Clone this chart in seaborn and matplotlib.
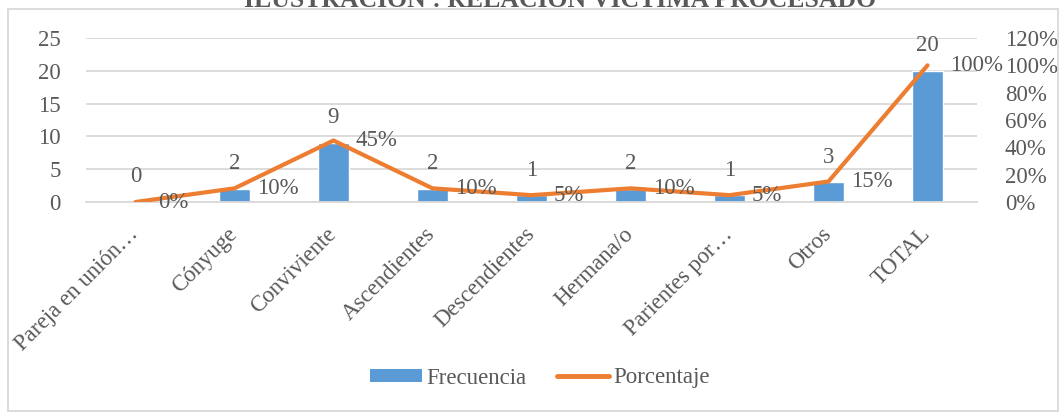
import matplotlib
matplotlib.use("Agg")
import matplotlib.pyplot as plt
import seaborn as sns
import numpy as np
from matplotlib.patches import Patch, Rectangle
from matplotlib.lines import Line2D
from matplotlib.ticker import FuncFormatter, MultipleLocator

categories = ["Pareja en unión…", "Cónyuge", "Conviviente", "Ascendientes",
              "Descendientes", "Hermana/o", "Parientes por…", "Otros", "TOTAL"]
frecuencia = [0, 2, 9, 2, 1, 2, 1, 3, 20]
porcentaje = [0.00, 0.10, 0.45, 0.10, 0.05, 0.10, 0.05, 0.15, 1.00]
title = "ILUSTRACIÓN : RELACIÓN VÍCTIMA PROCESADO"

BLUE = "#5B9BD5"
ORANGE = "#ED7D31"
TXT = "#595959"
GRID = "#D9D9D9"
FS = 16.5

sns.set_theme(style="white")
plt.rcParams["font.family"] = ["Liberation Serif", "DejaVu Serif"]

fig = plt.figure(figsize=(10.62, 4.13), dpi=100)
W, H = 1062, 413
ax = fig.add_axes([86 / W, 1 - 202 / H, 891 / W, 164 / H])

sns.barplot(x=categories, y=frecuencia, color=BLUE, saturation=1, width=0.31, ax=ax, zorder=2)
ax.set_xlim(-0.5, len(categories) - 0.5)
ax.set_ylim(0, 25)
ax.yaxis.set_major_locator(MultipleLocator(5))
ax.grid(axis="y", color=GRID, lw=1.3, zorder=0)
ax.set_axisbelow(True)
for s in ["top", "left", "right"]:
    ax.spines[s].set_visible(False)
ax.spines["bottom"].set_color(GRID)
ax.spines["bottom"].set_linewidth(1.3)
ax.tick_params(axis="both", length=0, labelsize=FS, labelcolor=TXT)
ax.tick_params(axis="y", pad=18)
ax.set_xlabel("")
ax.set_ylabel("")
for lbl in ax.get_xticklabels():
    lbl.set_rotation(45)
    lbl.set_rotation_mode("anchor")
    lbl.set_ha("right")
    lbl.set_va("center")
ax.tick_params(axis="x", pad=21)

for i, v in enumerate(frecuencia):
    ax.annotate(str(v), xy=(i, v), xytext=(0, 18), textcoords="offset points",
                ha="center", va="center", fontsize=FS, color=TXT)

ax2 = ax.twinx()
x_idx = np.arange(len(categories))
sns.lineplot(x=x_idx, y=porcentaje, color=ORANGE, lw=3, ax=ax2, solid_capstyle="round", zorder=3)
ax2.set_ylim(0, 1.2)
ax2.set_xlim(-0.5, len(categories) - 0.5)
ax2.yaxis.set_major_locator(MultipleLocator(0.2))
ax2.yaxis.set_major_formatter(FuncFormatter(lambda v, p: f"{v*100:.0f}%"))
ax2.tick_params(axis="y", length=0, labelsize=FS, labelcolor=TXT, pad=20)
for s in ax2.spines.values():
    s.set_visible(False)
ax2.set_ylabel("")
ax2.grid(False)
for i, p in enumerate(porcentaje):
    ax2.annotate(f"{p*100:.0f}%", xy=(i, p), xytext=(16, 0), textcoords="offset points",
                 ha="left", va="center", fontsize=FS, color=TXT)

handles = [Patch(facecolor=BLUE, edgecolor="none"), Line2D([0], [0], color=ORANGE, lw=3.5, solid_capstyle="round")]
fig.legend(handles, ["Frecuencia", "Porcentaje"], loc="center", bbox_to_anchor=(540 / W, 1 - 378 / H),
           ncol=2, frameon=False, fontsize=FS, labelcolor=TXT, handlelength=2.25, handleheight=0.5,
           handletextpad=0.2, columnspacing=1.35)

fig.text(560 / W, 1 - 7 / H, title, ha="center", va="baseline", fontsize=18.5, fontweight="bold", color=TXT)

fig.patches.append(Rectangle((8 / W, 0.004), 1 - 12 / W, 1 - 9 / H - 0.004, transform=fig.transFigure,
                             fill=False, edgecolor=GRID, lw=1.3))

fig.savefig("out.png", dpi=100)
